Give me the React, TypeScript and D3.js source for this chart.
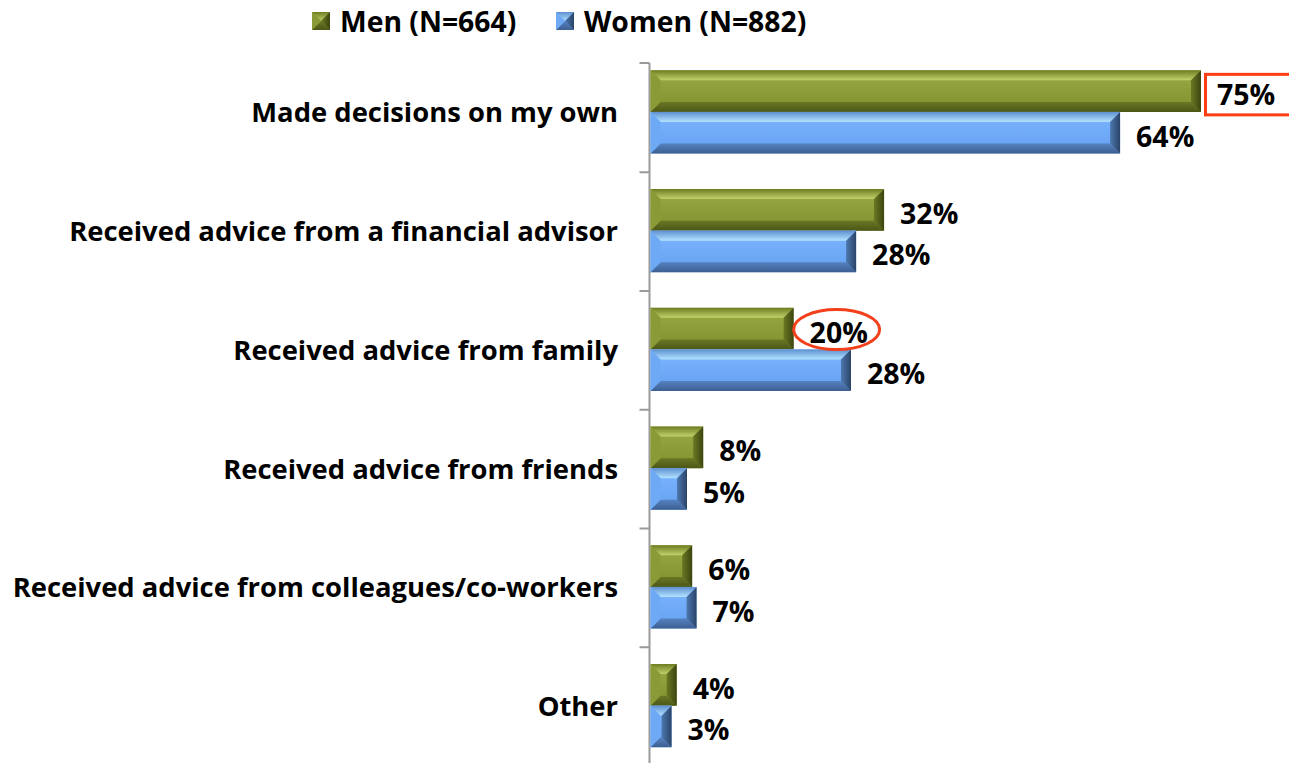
import React, {Component} from 'react';
import * as d3 from "d3"

const categories = [
  "Made decisions on my own",
  "Received advice from a financial advisor",
  "Received advice from family",
  "Received advice from friends",
  "Received advice from colleagues/co-workers",
  "Other",
]
const menValues = [75, 31.9, 19.6, 7.3, 5.8, 3.7]
const womenValues = [64, 28.1, 27.4, 5.1, 6.4, 3.0]
const menLabels = ["75%", "32%", "20%", "8%", "6%", "4%"]
const womenLabels = ["64%", "28%", "28%", "5%", "7%", "3%"]
const seriesNames = ["Men (N=664)", "Women (N=882)"]

const FONT = "'Open Sans', 'DejaVu Sans', sans-serif"

const palettes: any = {
  men: {face: ["#9aab45", "#7f8f2c"], top: ["#6f7d22", "#c3d26c"], bottom: ["#6a7725", "#4c5716"], left: "#8a9a36", right: ["#6a7824", "#3c4510"]},
  women: {face: ["#7db6ff", "#64a0f0"], top: ["#5d8fd0", "#b2e2ff"], bottom: ["#5582c0", "#3d5f92"], left: "#6ea9f5", right: ["#4d78b0", "#2b4468"]},
}

class App extends Component<{}, {}> {
  svgRef = React.createRef<SVGSVGElement>()

  drawBevel(g: any, x: number, y: number, w: number, h: number, key: string) {
    const b = Math.min(10, w / 2, h / 2)
    const p = (pts: number[][]) => pts.map(d => d.join(",")).join(" ")
    g.append("rect").attr("x", x).attr("y", y).attr("width", w).attr("height", h).attr("fill", `url(#${key}-face)`)
    g.append("polygon").attr("points", p([[x, y], [x + w, y], [x + w - b, y + b], [x + b, y + b]])).attr("fill", `url(#${key}-top)`)
    g.append("polygon").attr("points", p([[x, y + h], [x + w, y + h], [x + w - b, y + h - b], [x + b, y + h - b]])).attr("fill", `url(#${key}-bottom)`)
    g.append("polygon").attr("points", p([[x, y], [x + b, y + b], [x + b, y + h - b], [x, y + h]])).attr("fill", palettes[key].left)
    g.append("polygon").attr("points", p([[x + w, y], [x + w - b, y + b], [x + w - b, y + h - b], [x + w, y + h]])).attr("fill", `url(#${key}-right)`)
  }

  renderChart() {
    const svg = d3.select(this.svgRef.current)
    svg.selectAll("*").remove()

    // gradients for the bevelled bars
    const defs = svg.append("defs")
    Object.keys(palettes).forEach(key => {
      const pal = palettes[key]
      const vert = (id: string, c: string[]) => {
        const lg = defs.append("linearGradient").attr("id", id).attr("x1", 0).attr("y1", 0).attr("x2", 0).attr("y2", 1)
        lg.append("stop").attr("offset", "0%").attr("stop-color", c[0])
        lg.append("stop").attr("offset", "100%").attr("stop-color", c[1])
      }
      vert(`${key}-face`, pal.face)
      vert(`${key}-top`, pal.top)
      vert(`${key}-bottom`, pal.bottom)
      const lg = defs.append("linearGradient").attr("id", `${key}-right`).attr("x1", 0).attr("y1", 0).attr("x2", 1).attr("y2", 0)
      lg.append("stop").attr("offset", "0%").attr("stop-color", pal.right[0])
      lg.append("stop").attr("offset", "100%").attr("stop-color", pal.right[1])
    })

    const y = d3.scaleBand().domain(categories).range([53.5, 766])
    const ySub = d3.scaleBand().domain(["men", "women"]).range([0, y.bandwidth()]).paddingOuter(0.43)
    const x = d3.scaleLinear().domain([0, 100]).range([649.5, 1384.8])

    // axis
    const axisTop = 63
    svg.append("line").attr("x1", x(0)).attr("x2", x(0)).attr("y1", axisTop).attr("y2", 763)
      .attr("stroke", "#9a9a9a").attr("stroke-width", 2)
    const tickYs = [axisTop, ...categories.slice(1).map(c => y(c) as number)]
    svg.selectAll(".tick").data(tickYs).join("line").attr("class", "tick")
      .attr("x1", x(0) - 10).attr("x2", x(0)).attr("y1", d => d).attr("y2", d => d)
      .attr("stroke", "#9a9a9a").attr("stroke-width", 2)

    // category labels
    svg.selectAll(".cat").data(categories).join("text").attr("class", "cat")
      .attr("x", 618).attr("y", d => (y(d) as number) + y.bandwidth() / 2 - 1)
      .attr("text-anchor", "end").attr("dominant-baseline", "central")
      .attr("font-family", FONT).attr("font-weight", "bold").attr("font-size", 27.4).attr("fill", "#000")
      .text(d => d)

    const series = [
      {key: "men", values: menValues, labels: menLabels},
      {key: "women", values: womenValues, labels: womenLabels},
    ]
    series.forEach(s => {
      s.values.forEach((v, i) => {
        const by = (y(categories[i]) as number) + (ySub(s.key) as number) - 1
        const bh = ySub.bandwidth()
        this.drawBevel(svg.append("g"), x(0) + 1, by, x(v) - x(0) - 1, bh, s.key)
        svg.append("text")
          .attr("x", x(v) + 16).attr("y", by + bh / 2 + 3)
          .attr("dominant-baseline", "central")
          .attr("font-family", FONT).attr("font-weight", "bold").attr("font-size", 28.5).attr("fill", "#000")
          .text(s.labels[i])
      })
    })

    // highlight annotations
    const b0 = (y(categories[0]) as number) + (ySub("men") as number) - 1
    svg.append("rect").attr("x", x(menValues[0]) + 4.5).attr("y", b0 + 4).attr("width", 100).attr("height", ySub.bandwidth() - 1)
      .attr("fill", "none").attr("stroke", "#ff3d12").attr("stroke-width", 3)
    const b2 = (y(categories[2]) as number) + (ySub("men") as number) - 1
    svg.append("ellipse").attr("cx", x(menValues[2]) + 43).attr("cy", b2 + ySub.bandwidth() / 2 + 1)
      .attr("rx", 43).attr("ry", 20)
      .attr("fill", "none").attr("stroke", "#f2401c").attr("stroke-width", 3)

    // legend
    const legendX = [312, 556]
    seriesNames.forEach((name, i) => {
      const key = i === 0 ? "men" : "women"
      this.drawBevel(svg.append("g"), legendX[i], 12, 18, 18, key)
      svg.append("text").attr("x", legendX[i] + 28).attr("y", 21)
        .attr("dominant-baseline", "central")
        .attr("font-family", FONT).attr("font-weight", "bold").attr("font-size", 28.3).attr("fill", "#000")
        .text(name)
    })
  }

  componentDidMount() {
    this.renderChart()
  }

  render(): JSX.Element {
    return (
      <svg ref={this.svgRef} width={1289} height={763}
        style={{position: "absolute", left: 0, top: 0, background: "#fff"}} />
    )
  }
}
export default App;
